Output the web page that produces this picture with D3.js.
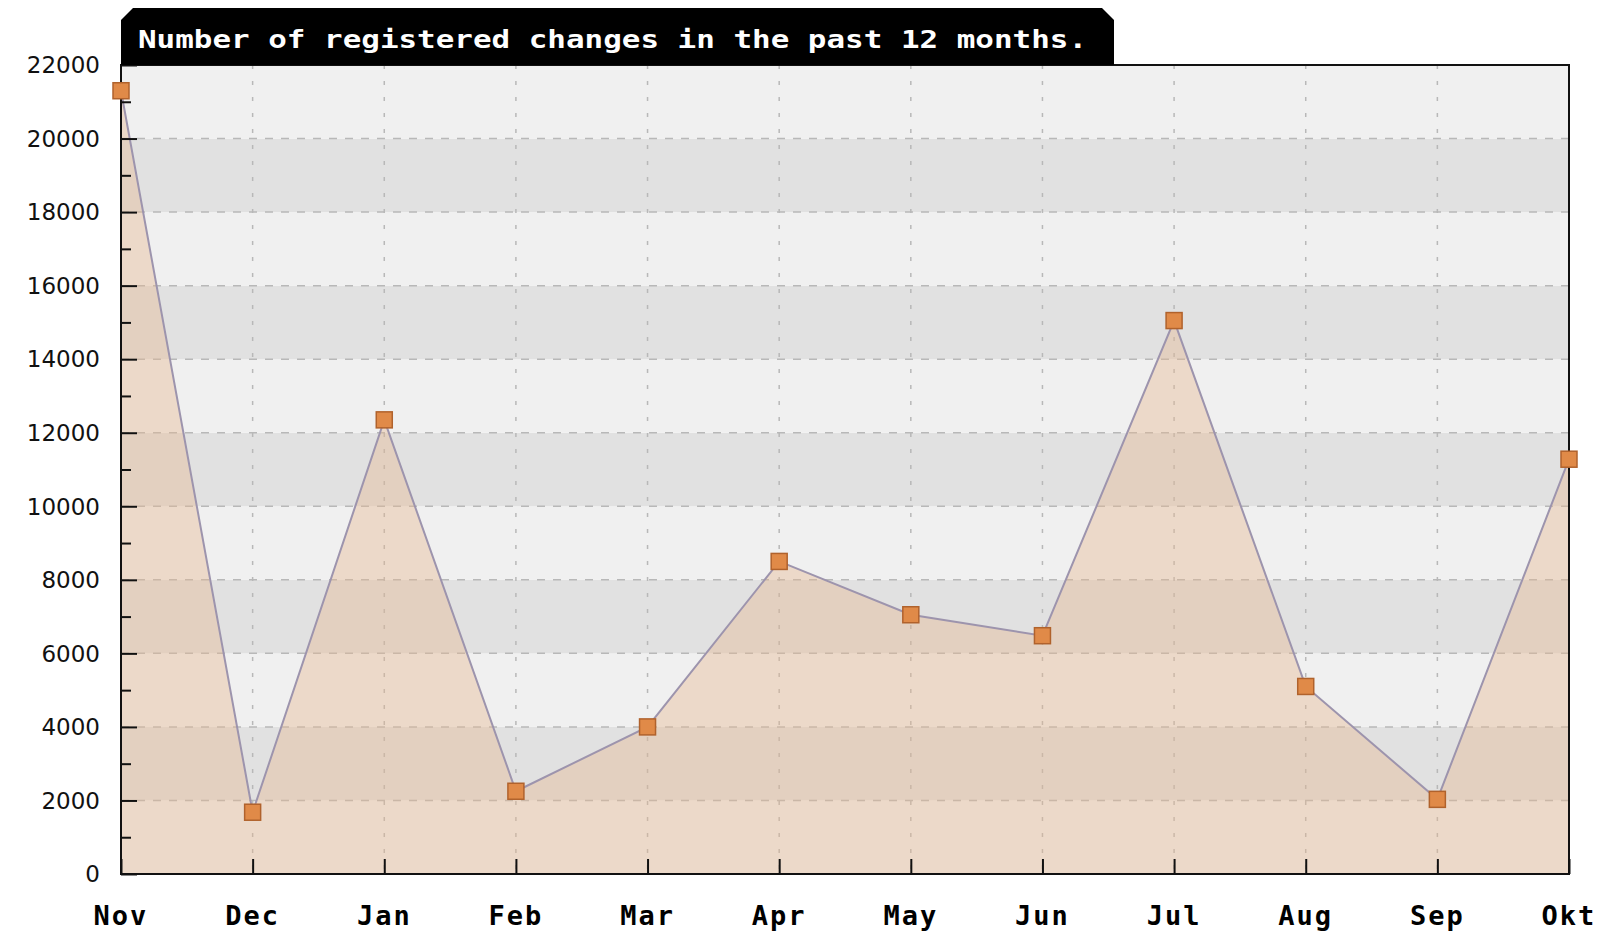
<!DOCTYPE html>
<html>
<head>
<meta charset="utf-8">
<script src="https://cdn.jsdelivr.net/npm/d3@7"></script>
<style>
  body { margin: 0; background: #fff; }
  svg { display: block; }
</style>
</head>
<body>
<svg id="chart" width="1605" height="941"></svg>
<script>
// Data
var months = ["Nov", "Dec", "Jan", "Feb", "Mar", "Apr", "May", "Jun", "Jul", "Aug", "Sep", "Okt"];
var changes = [21300, 1680, 12350, 2250, 4000, 8500, 7050, 6480, 15050, 5100, 2030, 11280];
var yTicks = [0, 2000, 4000, 6000, 8000, 10000, 12000, 14000, 16000, 18000, 20000, 22000];
var titleText = "Number of registered changes in the past 12 months.";

// Plot box
var plotLeft = 121, plotRight = 1569, plotTop = 65, plotBottom = 874;

var svg = d3.select("#chart");
var x = d3.scalePoint().domain(months).range([plotLeft, plotRight]);
var y = d3.scaleLinear().domain([0, 22000]).range([plotBottom, plotTop]);

// Background bands, alternate every 2000
var bands = yTicks.slice(0, -1);
svg.append("g").selectAll("rect").data(bands).enter().append("rect")
    .attr("x", plotLeft).attr("width", plotRight - plotLeft)
    .attr("y", function(d) { return y(d + 2000); })
    .attr("height", function(d) { return y(d) - y(d + 2000); })
    .attr("fill", function(d, i) { return (i % 2 == 1) ? "#e1e1e1" : "#f0f0f0"; });

// Grid
var grid = svg.append("g");
grid.selectAll("line.h").data(yTicks.slice(1, -1)).enter().append("line")
    .attr("x1", plotLeft).attr("x2", plotRight)
    .attr("y1", function(d) { return y(d); }).attr("y2", function(d) { return y(d); })
    .attr("stroke", "#b8b8b8").attr("stroke-width", 1.5).attr("stroke-dasharray", "8,8");
grid.selectAll("line.v").data(months.slice(1, -1)).enter().append("line")
    .attr("x1", function(d) { return x(d); }).attr("x2", function(d) { return x(d); })
    .attr("y1", plotTop).attr("y2", plotBottom)
    .attr("stroke", "#b8b8b8").attr("stroke-width", 1.5).attr("stroke-dasharray", "4,12");

// Area + line
var area = d3.area().x(function(d, i) { return x(months[i]); }).y0(plotBottom).y1(function(d) { return y(d); });
var line = d3.line().x(function(d, i) { return x(months[i]); }).y(function(d) { return y(d); });
svg.append("path").datum(changes).attr("d", area).attr("fill", "rgba(230,182,142,0.4)");
svg.append("path").datum(changes).attr("d", line)
    .attr("fill", "none").attr("stroke", "#9d94ad").attr("stroke-width", 2);

// Frame
svg.append("rect").attr("x", plotLeft).attr("y", plotTop)
    .attr("width", plotRight - plotLeft).attr("height", plotBottom - plotTop)
    .attr("fill", "none").attr("stroke", "#111").attr("stroke-width", 2);

// Y axis: major ticks every 2000, minor every 1000, drawn inwards
var yAxis = d3.axisRight(y).tickValues(d3.range(0, 22001, 1000))
    .tickSize(10).tickFormat("");
var gy = svg.append("g").attr("transform", "translate(" + plotLeft + ",0)").call(yAxis);
gy.select(".domain").remove();
gy.selectAll(".tick line").attr("stroke", "#111").attr("stroke-width", 2)
    .attr("x2", function(d) { return d % 2000 == 0 ? 16 : 10; });
svg.append("g").selectAll("text").data(yTicks).enter().append("text")
    .attr("x", 100).attr("y", function(d) { return y(d); })
    .attr("dy", "0.36em").attr("text-anchor", "end")
    .style("font-family", "DejaVu Sans").style("font-size", "23px").attr("fill", "#111")
    .text(function(d) { return d; });

// X axis: ticks pointing up, bold labels
var xAxis = d3.axisTop(x).tickSize(15).tickFormat("");
var gx = svg.append("g").attr("transform", "translate(0," + plotBottom + ")").call(xAxis);
gx.select(".domain").remove();
gx.selectAll(".tick line").attr("stroke", "#111").attr("stroke-width", 2);
svg.append("g").selectAll("text").data(months).enter().append("text")
    .attr("x", function(d) { return x(d); }).attr("y", 925)
    .attr("text-anchor", "middle")
    .style("font-family", "DejaVu Sans Mono").style("font-weight", "bold").style("font-size", "27px")
    .style("letter-spacing", "2px").attr("fill", "#000")
    .text(function(d) { return d; });

// Markers
svg.append("g").selectAll("rect").data(changes).enter().append("rect")
    .attr("x", function(d, i) { return x(months[i]) - 8; })
    .attr("y", function(d) { return y(d) - 8; })
    .attr("width", 16).attr("height", 16)
    .attr("fill", "#e08a48").attr("stroke", "#b0622c").attr("stroke-width", 1.5);

// Title tab with cut corners, sitting on the plot frame
var tx0 = 121, tx1 = 1114, ty0 = 8, ty1 = plotTop, cut = 12;
svg.append("path")
    .attr("d", "M" + tx0 + "," + ty1 + "L" + tx0 + "," + (ty0 + cut) + "L" + (tx0 + cut) + "," + ty0 +
        "L" + (tx1 - cut) + "," + ty0 + "L" + tx1 + "," + (ty0 + cut) + "L" + tx1 + "," + ty1 + "Z")
    .attr("fill", "#000");
svg.append("text").attr("x", 138).attr("y", 48)
    .attr("textLength", 949).attr("lengthAdjust", "spacingAndGlyphs")
    .style("font-family", "DejaVu Sans Mono").style("font-weight", "bold").style("font-size", "24px")
    .attr("fill", "#fff").text(titleText);
</script>
</body>
</html>
